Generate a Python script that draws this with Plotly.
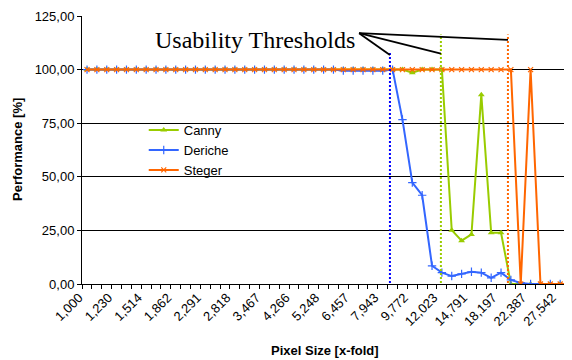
import plotly.graph_objects as go

pixel_size = ["1,000", "1,072", "1,148", "1,230", "1,318", "1,413", "1,514", "1,622", "1,738", "1,862",
              "1,995", "2,138", "2,291", "2,455", "2,630", "2,818", "3,020", "3,236", "3,467", "3,715",
              "3,981", "4,266", "4,571", "4,898", "5,248", "5,623", "6,026", "6,457", "6,918", "7,413",
              "7,943", "8,511", "9,120", "9,772", "10,471", "11,220", "12,023", "12,882", "13,804", "14,791",
              "15,849", "16,982", "18,197", "19,498", "20,893", "22,387", "23,988", "25,704", "27,542", "29,512"]

canny = [100]*33 + [98.5, 100, 100, 100, 25.1, 20.2, 23.1, 88.3, 23.9, 23.9, 0, 0, 0, 0, 0, 0, 0]
deriche = [100]*26 + [99.5, 99.5, 99.5, 99.5, 99.5, 100, 76.7, 47.3, 41.4, 8.5, 5.3, 3.7, 4.7, 5.7, 5.3,
                      2.9, 5.3, 1.9, 0.5, 0, 0, 0, 0, 0, 0]
steger = [100]*44 + [0, 100, 0, 0, 0, 0]

y_ticks = [0, 25, 50, 75, 100, 125]
y_ticktext = ["0,00", "25,00", "50,00", "75,00", "100,00", "125,00"]
x_ticktext = [s if i % 3 == 0 else "" for i, s in enumerate(pixel_size)]

# usability thresholds (category index positions)
thr_blue, thr_green, thr_orange = 30.73, 35.9, 42.7

# page offset (browser body margin)
OFF = 8
PL, PR, PT, PB = 82, 572, 16, 284  # plot area in page pixels

FONT = "Liberation Sans, Arial, sans-serif"
fig = go.Figure()
fig.add_trace(go.Scatter(x=pixel_size, y=canny, name="Canny", mode="lines+markers",
                         line=dict(color="#99CC00", width=2),
                         marker=dict(symbol="triangle-up", size=6, color="#99CC00")))
fig.add_trace(go.Scatter(x=pixel_size, y=deriche, name="Deriche", mode="lines+markers",
                         line=dict(color="#3366FF", width=2),
                         marker=dict(symbol="cross-thin", size=6, line=dict(color="#3366FF", width=1.2))))
fig.add_trace(go.Scatter(x=pixel_size, y=steger, name="Steger", mode="lines+markers",
                         line=dict(color="#FF6600", width=2),
                         marker=dict(symbol="x-thin", size=5, line=dict(color="#FF6600", width=1.2))))

shapes = []
for xv, y0, col in [(thr_blue, 108.0, "#0000FF"), (thr_green, 116.4, "#99CC00"), (thr_orange, 116.4, "#FF6600")]:
    shapes.append(dict(type="line", xref="x", yref="y", x0=xv, x1=xv, y0=-5.1, y1=y0,
                       line=dict(color=col, width=2, dash="2px,2px")))
sx, sy = 27.6, 117.0
for ex, ey in [(thr_blue, 106.8), (thr_green, 107.4), (thr_orange, 113.9)]:
    shapes.append(dict(type="line", xref="x", yref="y", x0=sx, y0=sy, x1=ex, y1=ey,
                       line=dict(color="black", width=1.8)))

W, H = 572 - OFF, 360 - OFF
fig.update_layout(
    width=W, height=H,
    margin=dict(l=PL - OFF, r=0, t=PT - OFF, b=H - (PB - OFF)),
    paper_bgcolor="white", plot_bgcolor="white",
    font=dict(family=FONT, size=13, color="black"),
    shapes=shapes,
    showlegend=True,
    legend=dict(x=0.126, y=0.63, xanchor="left", yanchor="top", bgcolor="rgba(0,0,0,0)",
                font=dict(size=13), tracegroupgap=0),
    annotations=[
        dict(text="Usability Thresholds", x=255, y=40, showarrow=False,
             font=dict(family="Liberation Serif, Times New Roman, serif", size=24)),
        dict(text="<b>Performance [%]</b>", textangle=-90, x=17, y=150, showarrow=False,
             font=dict(size=13)),
        dict(text="<b>Pixel Size [x-fold]</b>", x=325, y=350, showarrow=False, font=dict(size=13)),
    ],
)
# convert annotation page-pixel positions to paper coords
for a in fig.layout.annotations:
    a.x = (a.x - PL) / (PR - PL)
    a.y = (PB - a.y) / (PB - PT)
    a.xref = "paper"
    a.yref = "paper"
    a.xanchor = "center"
    a.yanchor = "middle"

fig.update_xaxes(type="category", range=[-0.51, 49.2], tickmode="array", tickvals=pixel_size,
                 ticktext=x_ticktext, tickangle=-45, tickson="boundaries", ticks="outside", ticklen=4,
                 tickcolor="black", showline=True, linecolor="black", linewidth=1, showgrid=False,
                 zeroline=False, tickfont=dict(size=13), automargin=False, ticklabelshift=-8)
fig.update_yaxes(range=[0, 125], tickmode="array", tickvals=y_ticks, ticktext=y_ticktext,
                 ticks="outside", ticklen=4, tickcolor="black", showline=True, linecolor="black",
                 showgrid=True, gridcolor="black", gridwidth=1, zeroline=False, tickfont=dict(size=13),
                 automargin=False)

fig.write_html("out.html")
